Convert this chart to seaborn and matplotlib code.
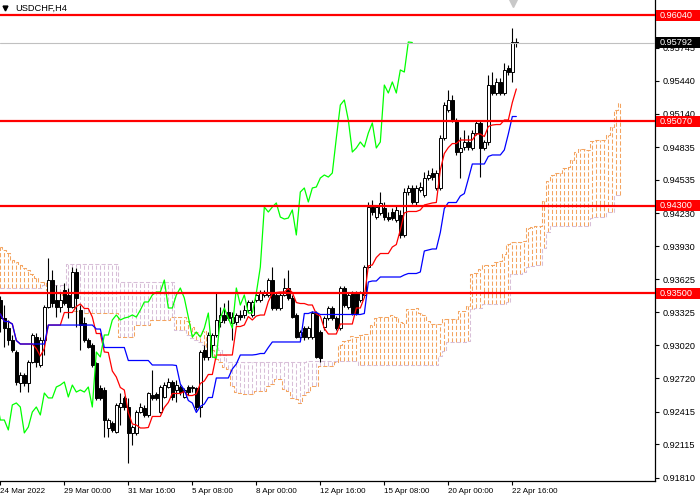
import numpy as np
import pandas as pd
import matplotlib
matplotlib.use("Agg")
import matplotlib.pyplot as plt
import matplotlib.transforms as mtransforms
from matplotlib.patches import Rectangle
import seaborn as sns

# USDCHF H4 candles (one entry per 4h bar)
opens = [
    0.93436, 0.93271, 0.93179, 0.93070, 0.92960, 0.92677, 0.92750, 0.92677, 0.92869, 0.93097,
    0.92841, 0.93070, 0.93372, 0.93619, 0.93436, 0.93372, 0.93527, 0.93482, 0.93372, 0.93692,
    0.93344, 0.93226, 0.93070, 0.93024, 0.92860, 0.92631, 0.92613, 0.92265, 0.92311, 0.92229,
    0.92457, 0.92540, 0.92457, 0.92220, 0.92220, 0.92411, 0.92448, 0.92384, 0.92567, 0.92576,
    0.92411, 0.92549, 0.92640, 0.92686, 0.92613, 0.92640, 0.92549, 0.92640, 0.92631, 0.92631,
    0.92457, 0.92979, 0.92915, 0.93024, 0.93116, 0.93235, 0.93299, 0.93326, 0.93226, 0.93235,
    0.93299, 0.93299, 0.93344, 0.93299, 0.93436, 0.93436, 0.93482, 0.93482, 0.93619, 0.93482,
    0.93363, 0.93482, 0.93546, 0.93454, 0.93299, 0.93097, 0.93179, 0.93097, 0.93097, 0.93317,
    0.93143, 0.93189, 0.93271, 0.93363, 0.93271, 0.93179, 0.93546, 0.93372, 0.93500, 0.93500,
    0.93436, 0.93482, 0.93738, 0.94287, 0.94195, 0.94232, 0.94278, 0.94195, 0.94241, 0.94168,
    0.94214, 0.94031, 0.94424, 0.94461, 0.94333, 0.94443, 0.94397, 0.94552, 0.94598, 0.94461,
    0.94461, 0.94918, 0.95175, 0.95266, 0.95083, 0.94790, 0.94836, 0.94882, 0.94827, 0.94964,
    0.95056, 0.94827, 0.94882, 0.95403, 0.95330, 0.95431, 0.95330, 0.95559, 0.95522, 0.95797,
]
highs = [
    0.93473, 0.93390, 0.93253, 0.93116, 0.92979, 0.92777, 0.92768, 0.92887, 0.93134, 0.93134,
    0.93097, 0.93390, 0.93820, 0.93711, 0.93573, 0.93500, 0.93591, 0.93546, 0.93738, 0.93729,
    0.93390, 0.93280, 0.93088, 0.93042, 0.92869, 0.92658, 0.92640, 0.92356, 0.92329, 0.92494,
    0.92585, 0.92558, 0.92540, 0.92292, 0.92430, 0.92494, 0.92476, 0.92594, 0.92796, 0.92594,
    0.92658, 0.92686, 0.92722, 0.92704, 0.92704, 0.92658, 0.92631, 0.92658, 0.92658, 0.92640,
    0.92979, 0.93024, 0.93143, 0.93134, 0.93500, 0.93372, 0.93409, 0.93436, 0.93326, 0.93317,
    0.93344, 0.93390, 0.93436, 0.93436, 0.93509, 0.93527, 0.93527, 0.93637, 0.93738, 0.93500,
    0.93500, 0.93637, 0.93711, 0.93482, 0.93317, 0.93162, 0.93198, 0.93198, 0.93335, 0.93335,
    0.93162, 0.93290, 0.93381, 0.93381, 0.93290, 0.93564, 0.93564, 0.93500, 0.93518, 0.93518,
    0.93518, 0.93756, 0.94333, 0.94351, 0.94305, 0.94424, 0.94333, 0.94241, 0.94278, 0.94305,
    0.94260, 0.94461, 0.94488, 0.94488, 0.94488, 0.94516, 0.94607, 0.94626, 0.94644, 0.94626,
    0.94946, 0.95248, 0.95357, 0.95312, 0.95101, 0.94928, 0.94991, 0.94946, 0.94991, 0.95083,
    0.95083, 0.94900, 0.95495, 0.95522, 0.95467, 0.95467, 0.95605, 0.95586, 0.95925, 0.95833,
]
lows = [
    0.93143, 0.93006, 0.93024, 0.92960, 0.92658, 0.92594, 0.92649, 0.92594, 0.92860, 0.92823,
    0.92823, 0.92933, 0.93363, 0.93372, 0.93280, 0.93326, 0.93390, 0.93271, 0.93363, 0.93189,
    0.92979, 0.93052, 0.92997, 0.92823, 0.92521, 0.92521, 0.92183, 0.92183, 0.92229, 0.92220,
    0.92292, 0.92430, 0.91945, 0.92110, 0.92201, 0.92402, 0.92366, 0.92366, 0.92521, 0.92521,
    0.92402, 0.92540, 0.92631, 0.92521, 0.92503, 0.92567, 0.92540, 0.92567, 0.92594, 0.92430,
    0.92366, 0.92887, 0.92887, 0.92915, 0.93097, 0.93189, 0.93226, 0.93253, 0.93070, 0.93207,
    0.93253, 0.93271, 0.93326, 0.93280, 0.93418, 0.93418, 0.93463, 0.93463, 0.93344, 0.93344,
    0.93344, 0.93473, 0.93436, 0.93271, 0.93088, 0.93070, 0.93070, 0.93079, 0.93079, 0.92906,
    0.92869, 0.93162, 0.93253, 0.93253, 0.93162, 0.93162, 0.93372, 0.93354, 0.93299, 0.93299,
    0.93418, 0.93463, 0.93729, 0.94214, 0.94177, 0.94214, 0.94168, 0.94159, 0.94168, 0.94150,
    0.94004, 0.94013, 0.94397, 0.94315, 0.94305, 0.94424, 0.94378, 0.94534, 0.94534, 0.94443,
    0.94443, 0.94900, 0.95156, 0.95065, 0.94763, 0.94552, 0.94809, 0.94809, 0.94809, 0.94946,
    0.94561, 0.94809, 0.94854, 0.95312, 0.95312, 0.95312, 0.95312, 0.95495, 0.95431, 0.95751,
]
closes = [
    0.93271, 0.93179, 0.93070, 0.92979, 0.92686, 0.92750, 0.92677, 0.92869, 0.93116, 0.92869,
    0.93070, 0.93372, 0.93619, 0.93409, 0.93372, 0.93436, 0.93409, 0.93372, 0.93692, 0.93454,
    0.93207, 0.93070, 0.93006, 0.92841, 0.92540, 0.92540, 0.92338, 0.92338, 0.92247, 0.92476,
    0.92494, 0.92457, 0.92220, 0.92274, 0.92411, 0.92457, 0.92384, 0.92585, 0.92540, 0.92540,
    0.92640, 0.92658, 0.92686, 0.92549, 0.92658, 0.92594, 0.92613, 0.92594, 0.92640, 0.92457,
    0.92960, 0.92915, 0.93116, 0.93116, 0.93253, 0.93299, 0.93253, 0.93271, 0.93280, 0.93299,
    0.93280, 0.93344, 0.93418, 0.93418, 0.93482, 0.93509, 0.93509, 0.93619, 0.93363, 0.93363,
    0.93482, 0.93546, 0.93454, 0.93280, 0.93097, 0.93143, 0.93097, 0.93179, 0.93317, 0.92915,
    0.92906, 0.93271, 0.93363, 0.93271, 0.93179, 0.93546, 0.93390, 0.93482, 0.93317, 0.93317,
    0.93500, 0.93738, 0.94287, 0.94241, 0.94287, 0.94324, 0.94195, 0.94177, 0.94186, 0.94260,
    0.94031, 0.94424, 0.94461, 0.94333, 0.94461, 0.94470, 0.94552, 0.94580, 0.94561, 0.94598,
    0.94918, 0.95220, 0.95266, 0.95083, 0.94790, 0.94827, 0.94882, 0.94836, 0.94964, 0.95056,
    0.94827, 0.94882, 0.95403, 0.95330, 0.95431, 0.95330, 0.95541, 0.95522, 0.95797, 0.95792,
]

# cloud at the left edge comes from bars before the visible window
span_a_early = [
    0.9392, 0.9389, 0.9387, 0.9380, 0.9378, 0.9376, 0.9373, 0.9371, 0.9367, 0.9364,
    0.9360, 0.9360, 0.9353, 0.9353, 0.9350, 0.9350, 0.9348, 0.9344, 0.9339, 0.9334,
    0.9333, 0.9332, 0.9332, 0.9332, 0.9332, 0.9332, 0.9332, 0.9332, 0.9332, 0.9332,
    0.9310, 0.9310, 0.9310, 0.9310, 0.9321, 0.9321, 0.9321, 0.9321, 0.9325, 0.9325,
    0.9325, 0.9325, 0.9325, 0.9328, 0.9328, 0.9328, 0.9328, 0.9324, 0.9319, 0.9314,
    0.9312,
]
span_b_early = (
    [0.9355] * 11 + [0.9357] * 6 + [0.9377] * 13 + [0.9360] * 14
    + [0.9316, 0.9316, 0.9316, 0.9312, 0.9309, 0.9307, 0.9305, 0.9302, 0.9302]
    + [0.9302, 0.9302, 0.9298, 0.9293] + [0.9287] * 20
)

level_prices = [0.96040, 0.95070, 0.94300, 0.93500]
bid_price = 0.95792
ytick_values = [0.95745, 0.95440, 0.95140, 0.94835, 0.94535, 0.94230, 0.93930,
                0.93625, 0.93325, 0.93020, 0.92720, 0.92415, 0.92115, 0.91810]
xtick_bars = [0, 16, 32, 48, 64, 80, 96, 112, 128]
xtick_labels = ["24 Mar 2022", "29 Mar 00:00", "31 Mar 16:00", "5 Apr 08:00", "8 Apr 00:00",
                "12 Apr 16:00", "15 Apr 08:00", "20 Apr 00:00", "22 Apr 16:00"]

# ichimoku 9/26/52
df = pd.DataFrame({"open": opens, "high": highs, "low": lows, "close": closes})
df["bar"] = np.arange(len(df))
hi, lo = df["high"], df["low"]
df["tenkan"] = (hi.rolling(9, min_periods=1).max() + lo.rolling(9, min_periods=1).min()) / 2
df["kijun"] = (hi.rolling(26, min_periods=1).max() + lo.rolling(26, min_periods=1).min()) / 2
mid52 = (hi.rolling(52, min_periods=1).max() + lo.rolling(52, min_periods=1).min()) / 2

shift = 26
n = len(df)
span_a = np.full(n + shift, np.nan)
span_b = np.full(n + shift, np.nan)
span_a[shift:] = ((df["tenkan"] + df["kijun"]) / 2).values
span_b[shift:] = mid52.values
span_a[:len(span_a_early)] = span_a_early
span_b[:len(span_b_early)] = span_b_early
cloud = pd.DataFrame({"bar": np.arange(n + shift), "a": span_a, "b": span_b})

sns.set_style("white")
plt.rcParams["font.family"] = ["Liberation Sans", "DejaVu Sans"]

fig = plt.figure(figsize=(7, 5), dpi=100)
ax = fig.add_axes([0, 19 / 500, 655 / 700, 481 / 500])
y_top, y_bot = 0.96181, 0.91780
px = (y_top - y_bot) / 481
ax.set_xlim(-0.08, 163.67)
ax.set_ylim(y_bot, y_top)

# cloud hatch
up = cloud["a"] >= cloud["b"]
dash = (0, (4, 2))
ax.vlines(cloud["bar"], cloud[["a", "b"]].min(axis=1), cloud[["a", "b"]].max(axis=1),
          colors=np.where(up, "#F4A460", "#D8BFD8"), linestyles=[dash], linewidth=0.75, zorder=1)
ax.step(cloud["bar"], cloud["a"], where="mid", color="#F4A460", linestyle=dash, linewidth=0.75, zorder=1)
ax.step(cloud["bar"], cloud["b"], where="mid", color="#D8BFD8", linestyle=dash, linewidth=0.75, zorder=1)

# candles
ax.vlines(df["bar"], df["low"], df["high"], color="black", linewidth=0.8, zorder=2)
body_lo = df[["open", "close"]].min(axis=1)
body_h = (df["close"] - df["open"]).abs()
bull = df["close"] >= df["open"]
ax.bar(df["bar"], body_h, bottom=body_lo, width=0.62,
       color=np.where(bull, "white", "black"), edgecolor="black", linewidth=0.7, zorder=2.5)

# tenkan, kijun, chikou
sns.lineplot(x=df["bar"], y=df["tenkan"], ax=ax, color="red", linewidth=0.9, zorder=3)
sns.lineplot(x=df["bar"], y=df["kijun"], ax=ax, color="blue", linewidth=0.9, zorder=3)
sns.lineplot(x=df["bar"] - shift, y=df["close"], ax=ax, color="#00FF00", linewidth=0.9, zorder=3)

# levels and bid line
ax.axhline(bid_price, color="#C0C0C0", linewidth=0.8, zorder=3.5)
for lvl in level_prices:
    ax.axhline(lvl, color="red", linewidth=1.6, zorder=4)

ax.set_xlabel("")
ax.set_ylabel("")
ax.yaxis.tick_right()
ax.set_yticks(ytick_values)
ax.set_yticklabels([f"{v:.5f}" for v in ytick_values])
ax.set_xticks(xtick_bars)
ax.set_xticklabels(xtick_labels)
for lab in ax.get_xticklabels():
    lab.set_horizontalalignment("left")
ax.tick_params(axis="y", direction="out", length=3, width=0.8, pad=2.5, labelsize=6.6,
               colors="black", right=True, left=False)
ax.tick_params(axis="x", direction="out", length=3, width=0.8, pad=2, labelsize=5.8,
               colors="black", bottom=True)
for side in ["top", "left"]:
    ax.spines[side].set_visible(False)
for side in ["right", "bottom"]:
    ax.spines[side].set_color("black")
    ax.spines[side].set_linewidth(0.9)

# price tags on the right scale
trans = mtransforms.blended_transform_factory(ax.transAxes, ax.transData)


def price_tag(price, face):
    h = 11 * px
    ax.add_patch(Rectangle((656 / 655, price - h / 2), 44 / 655, h, transform=trans,
                           facecolor=face, edgecolor="none", clip_on=False, zorder=6))
    ax.text(660 / 655, price, f"{price:.5f}", transform=trans, color="white", fontsize=6.6,
            ha="left", va="center", clip_on=False, zorder=7)


for lvl in level_prices:
    price_tag(lvl, "red")
price_tag(bid_price, "black")

# header and shift marker
ax.plot([5 / 655], [1 - 8 / 481], marker="v", markersize=3.5, color="black",
        transform=ax.transAxes, clip_on=False, zorder=8)
ax.text(15 / 655, 1 - 8 / 481, "USDCHF,H4", transform=ax.transAxes, fontsize=6.7,
        color="black", ha="left", va="center", zorder=8)
ax.plot([513 / 655], [1 - 3 / 481], marker="v", markersize=6, color="#C8C8C8",
        transform=ax.transAxes, clip_on=False, zorder=8)

fig.savefig("out.png", dpi=100)
